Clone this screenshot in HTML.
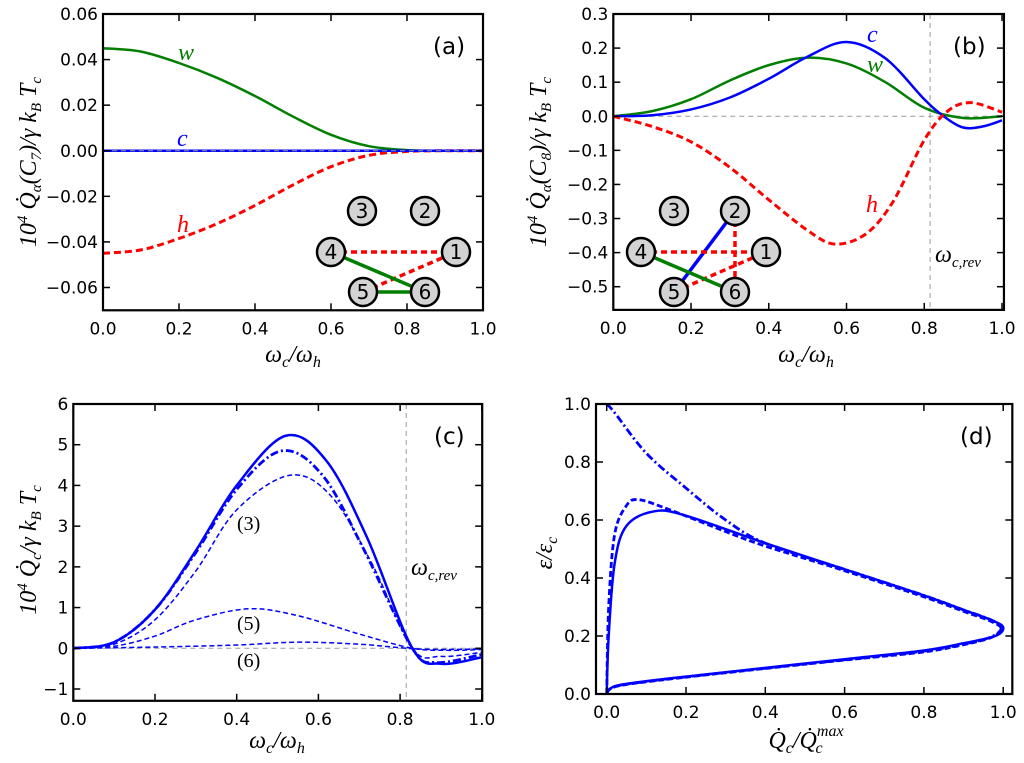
<!DOCTYPE html>
<html><head><meta charset="utf-8"><style>
html,body{margin:0;padding:0;background:#fff;}
svg{display:block;font-family:"DejaVu Sans","Liberation Sans",sans-serif;}
.tk{font-size:17px;fill:#000;}
.lab{font-family:"Liberation Serif","DejaVu Serif",serif;font-style:italic;font-size:24px;}
</style></head><body>
<svg id="fig" width="1024" height="763" viewBox="0 0 1024 763"></svg>
<script>
// ---- data ----
const aX=[0,0.1,0.2,0.3,0.4,0.5,0.6,0.7,0.8,0.9,1.0];
const aW=[0.045,0.0435,0.0385,0.032,0.024,0.015,0.007,0.002,0.0003,0,0];
const aC=[0,0,0,0,0,0,0,0,0,0,0];
const aH=[-0.045,-0.0435,-0.0385,-0.032,-0.024,-0.015,-0.007,-0.002,-0.0003,0,0];
const aYTicks=[0.06,0.04,0.02,0.00,-0.02,-0.04,-0.06];
const aYTickLabels=["0.06","0.04","0.02","0.00","\u22120.02","\u22120.04","\u22120.06"];

const bCX=[0,0.1,0.2,0.3,0.4,0.5,0.6,0.7,0.8,0.85,0.9,0.95,1.0];
const bC=[0,0.003,0.02,0.055,0.11,0.175,0.218,0.17,0.05,0,-0.033,-0.03,-0.012];
const bWX=[0,0.1,0.2,0.3,0.4,0.5,0.6,0.7,0.8,0.9,1.0];
const bW=[0,0.015,0.05,0.105,0.15,0.172,0.155,0.1,0.025,-0.005,0];
const bHX=[0,0.1,0.2,0.3,0.4,0.5,0.57,0.65,0.72,0.8,0.86,0.92,1.0];
const bH=[0,-0.03,-0.075,-0.15,-0.245,-0.335,-0.375,-0.345,-0.25,-0.07,0.015,0.04,0.012];
const bYTicks=[0.3,0.2,0.1,0.0,-0.1,-0.2,-0.3,-0.4,-0.5];
const bYTickLabels=["0.3","0.2","0.1","0.0","\u22120.1","\u22120.2","\u22120.3","\u22120.4","\u22120.5"];
const revX=0.815;

const cX=[0,0.1,0.2,0.3,0.4,0.52,0.62,0.72,0.83,0.9,1.0];
const cTotal=[0,0.15,0.95,2.4,4.0,5.22,4.6,2.7,0,-0.38,-0.22];
const cDDX=[0,0.1,0.2,0.3,0.4,0.51,0.61,0.71,0.83,0.89,1.0];
const cDD=[0,0.15,0.95,2.35,3.9,4.85,4.25,2.45,0,-0.35,-0.15];
const c3X=[0,0.1,0.2,0.3,0.4,0.53,0.63,0.73,0.83,0.9,1.0];
const c3=[0,0.1,0.7,1.9,3.4,4.25,3.75,2.1,0,-0.2,-0.1];
const c5X=[0,0.1,0.2,0.3,0.43,0.55,0.7,0.83,0.92,1.0];
const c5=[0,0.05,0.3,0.7,0.97,0.8,0.35,0,-0.05,-0.03];
const c6X=[0,0.2,0.4,0.55,0.7,0.85,1.0];
const c6=[0,0.03,0.08,0.15,0.1,-0.02,-0.02];
const cYTicks=[6,5,4,3,2,1,0,-1];
const cYTickLabels=["6","5","4","3","2","1","0","\u22121"];

const dSolidX=[0,0.005,0.02,0.05,0.12,0.2,0.4,0.6,0.8,0.9,0.97,1.0,0.98,0.9,0.8,0.6,0.4,0.2,0.05,0.01,0];
const dSolidY=[0,0.2,0.45,0.58,0.63,0.615,0.52,0.43,0.34,0.29,0.255,0.23,0.2,0.175,0.15,0.12,0.09,0.06,0.035,0.02,0];
const dDashX=[0,0.005,0.02,0.05,0.08,0.15,0.3,0.4,0.6,0.8,0.9,0.97,0.995,0.97,0.9,0.8,0.6,0.4,0.2,0.05,0.01,0];
const dDashY=[0,0.3,0.55,0.65,0.67,0.64,0.56,0.51,0.425,0.335,0.285,0.25,0.225,0.195,0.17,0.145,0.117,0.088,0.058,0.033,0.018,0];
const dDDX=[0,0.02,0.1,0.2,0.3,0.4,0.6,0.8,0.9,0.97,0.995,0.97,0.9,0.8,0.6,0.4,0.2,0.05,0.01,0];
const dDDY=[1.0,0.97,0.83,0.71,0.6,0.52,0.43,0.34,0.29,0.255,0.228,0.197,0.172,0.148,0.118,0.089,0.059,0.034,0.019,0];
const xTicks=[0,0.2,0.4,0.6,0.8,1.0];
const xTickLabels=["0.0","0.2","0.4","0.6","0.8","1.0"];
const dYTicks=[0,0.2,0.4,0.6,0.8,1.0];
const dYTickLabels=["0.0","0.2","0.4","0.6","0.8","1.0"];

// ---- helpers ----
const NS="http://www.w3.org/2000/svg";
const svg=document.getElementById('fig');
function mk(tag,attrs,parent){const e=document.createElementNS(NS,tag);for(const k in attrs)e.setAttribute(k,attrs[k]);(parent||svg).appendChild(e);return e;}
function smooth(pts){
  if(pts.length<3)return "M"+pts.map(p=>p.join(",")).join("L");
  let d="M"+pts[0][0].toFixed(2)+","+pts[0][1].toFixed(2);
  for(let i=0;i<pts.length-1;i++){
    const p0=pts[Math.max(0,i-1)],p1=pts[i],p2=pts[i+1],p3=pts[Math.min(pts.length-1,i+2)];
    const c1=[p1[0]+(p2[0]-p0[0])/6,p1[1]+(p2[1]-p0[1])/6];
    const c2=[p2[0]-(p3[0]-p1[0])/6,p2[1]-(p3[1]-p1[1])/6];
    d+="C"+c1[0].toFixed(2)+","+c1[1].toFixed(2)+" "+c2[0].toFixed(2)+","+c2[1].toFixed(2)+" "+p2[0].toFixed(2)+","+p2[1].toFixed(2);
  }
  return d;
}
function panel(cfg){
  const g=mk('g',{});
  
  
  const sx=v=>cfg.px0+(v-cfg.x0)/(cfg.x1-cfg.x0)*(cfg.px1-cfg.px0);
  const sy=v=>cfg.py0+(v-cfg.y0)/(cfg.y1-cfg.y0)*(cfg.py1-cfg.py0);
  cfg.sx=sx;cfg.sy=sy;cfg.g=g;
  const L=sx(cfg.xmin),R=sx(cfg.xmax),T=sy(cfg.ymax),B=sy(cfg.ymin);
  cfg.L=L;cfg.R=R;cfg.T=T;cfg.B=B;
  const clipId='clip-'+cfg.name;
  const cp=mk('clipPath',{id:clipId},g);mk('rect',{x:L,y:T,width:R-L,height:B-T},cp);
  const pg=mk('g',{'clip-path':'url(#'+clipId+')'},g);
  
  
  cfg.pg=pg;
  return cfg;
}
function finish(cfg,xt,xtl,yt,ytl){
  const g=cfg.g,{L,R,T,B}=cfg;
  xt.forEach((v,i)=>{const x=cfg.sx(v);
    const t=mk('line',{x1:x,x2:x,y1:B,y2:B-7,stroke:'#000','stroke-width':1.5},g);
    
    
    mk('line',{x1:x,x2:x,y1:T,y2:T+7,stroke:'#000','stroke-width':1.5},g);
    const tx=mk('text',{x:x,y:B+24,'text-anchor':'middle',class:'tk'},g);tx.textContent=xtl[i];
    
    
  });
  yt.forEach((v,i)=>{const y=cfg.sy(v);
    const t=mk('line',{x1:L,x2:L+7,y1:y,y2:y,stroke:'#000','stroke-width':1.5},g);
    
    
    mk('line',{x1:R,x2:R-7,y1:y,y2:y,stroke:'#000','stroke-width':1.5},g);
    const tx=mk('text',{x:L-5,y:y+6,'text-anchor':'end',class:'tk'},g);tx.textContent=ytl[i];
    
    
  });
  const fr=mk('rect',{x:L,y:T,width:R-L,height:B-T,fill:'none',stroke:'#000','stroke-width':2.2},g);
  
  
}
function series(cfg,xs,ys,name,style){
  const pts=xs.map((x,i)=>[cfg.sx(x),cfg.sy(ys[i])]);
  const p=mk('path',Object.assign({d:smooth(pts),fill:'none','stroke-linejoin':'round'},style),cfg.pg);
  
  
}
function hline(cfg,v,name){const l=mk('line',{x1:cfg.L,x2:cfg.R,y1:cfg.sy(v),y2:cfg.sy(v),stroke:'#999','stroke-width':1,'stroke-dasharray':'5,4'},cfg.pg);
  
  }
function vline(cfg,v,name){const l=mk('line',{x1:cfg.sx(v),x2:cfg.sx(v),y1:cfg.T,y2:cfg.B,stroke:'#999','stroke-width':1,'stroke-dasharray':'5,4'},cfg.pg);
  
  }
function txt(parent,x,y,s,cls,extra,name){const t=mk('text',Object.assign({x:x,y:y,class:cls||''},extra||{}),parent);t.innerHTML=s;
  
  return t;}
function network(parent,nodes,edges,name){
  const g=mk('g',{},parent);
  
  
  edges.forEach(e=>{const a=nodes[e[0]],b=nodes[e[1]];
    const l=mk('line',{x1:a[0],y1:a[1],x2:b[0],y2:b[1],stroke:e[2],'stroke-width':3.5,'stroke-dasharray':e[3]?'6,4':'none'},g);
    
    
  });
  for(const k in nodes){const n=nodes[k];
    const c=mk('circle',{cx:n[0],cy:n[1],r:14,fill:'#d3d3d3',stroke:'#000','stroke-width':2.5},g);
    
    
    const t=mk('text',{x:n[0],y:n[1]+7,'text-anchor':'middle','font-size':'20px'},g);t.textContent=k;
    
    
  }
}
const RED='#ff0000',GRN='#007f00',BLU='#0000ff';
const thickDash={stroke:RED,'stroke-width':3,'stroke-dasharray':'7,4'};

// ---- panel a ----
const A=panel({name:'panel-a',x0:0,x1:1,px0:103,px1:483,y0:0.06,y1:-0.06,py0:14,py1:287.5,xmin:0,xmax:1,ymin:-0.07,ymax:0.06});
series(A,aX,aW,'series-w',{stroke:GRN,'stroke-width':2.5});
series(A,aX,aH,'series-h',thickDash);
series(A,aX,aC,'series-c',{stroke:BLU,'stroke-width':2.5});
hline(A,0,'zero-line');
network(A.g,{"3":[362,211],"2":[425,211],"4":[331,252],"1":[456,252],"5":[363,292],"6":[425,292]},
  [["4","1",RED,1],["5","1",RED,1],["4","6",GRN,0],["5","6",GRN,0]],'network-inset-a');
finish(A,xTicks,xTickLabels,aYTicks,aYTickLabels);
txt(A.g,178,60,'w','lab',{fill:GRN},'label-w');
txt(A.g,177,146,'c','lab',{fill:BLU},'label-c');
txt(A.g,177,232,'h','lab',{fill:RED},'label-h');
txt(A.g,433,54,'(a)','',{'font-size':'23px'},'panel-label-a');

// ---- panel b ----
const Bp=panel({name:'panel-b',x0:0,x1:1,px0:613.3,px1:1002,y0:0.3,y1:-0.5,py0:14,py1:286.7,xmin:0,xmax:1.005,ymin:-0.568,ymax:0.3});
hline(Bp,0,'zero-line');
vline(Bp,revX,'reversal-line');
series(Bp,bWX,bW,'series-w',{stroke:GRN,'stroke-width':2.5});
series(Bp,bCX,bC,'series-c',{stroke:BLU,'stroke-width':2.5});
series(Bp,bHX,bH,'series-h',thickDash);
network(Bp.g,{"3":[674,211],"2":[735,211],"4":[641,252],"1":[766,252],"5":[674,292],"6":[735,292]},
  [["2","5",BLU,0],["2","6",RED,1],["4","1",RED,1],["5","1",RED,1],["4","6",GRN,0]],'network-inset-b');
finish(Bp,xTicks,xTickLabels,bYTicks,bYTickLabels);
txt(Bp.g,867,42,'c','lab',{fill:BLU},'label-c');
txt(Bp.g,867,72,'w','lab',{fill:GRN},'label-w');
txt(Bp.g,866,212,'h','lab',{fill:RED},'label-h');
txt(Bp.g,935,262,'ω<tspan font-size="15" dy="5">c,rev</tspan>','lab',{fill:'#000'},'label-omega-rev');
txt(Bp.g,953,54,'(b)','',{'font-size':'23px'},'panel-label-b');

// ---- panel c ----
const Cp=panel({name:'panel-c',x0:0,x1:1,px0:73.3,px1:481.8,y0:6,y1:-1,py0:404,py1:689,xmin:0,xmax:1.001,ymin:-1.29,ymax:6});
hline(Cp,0,'zero-line');
vline(Cp,revX,'reversal-line');
series(Cp,c6X,c6,'series-c6',{stroke:BLU,'stroke-width':1.5,'stroke-dasharray':'5,3'});
series(Cp,c5X,c5,'series-c5',{stroke:BLU,'stroke-width':1.5,'stroke-dasharray':'5,3'});
series(Cp,c3X,c3,'series-c3',{stroke:BLU,'stroke-width':1.5,'stroke-dasharray':'5,3'});
series(Cp,cDDX,cDD,'series-dashdot',{stroke:BLU,'stroke-width':2.8,'stroke-dasharray':'8,3,2,3'});
series(Cp,cX,cTotal,'series-total',{stroke:BLU,'stroke-width':2.5});
finish(Cp,xTicks,xTickLabels,cYTicks,cYTickLabels);
txt(Cp.g,237,530,'(3)','',{'font-family':'Liberation Serif,serif','font-size':'20px'},'label-3');
txt(Cp.g,237,630,'(5)','',{'font-family':'Liberation Serif,serif','font-size':'20px'},'label-5');
txt(Cp.g,237,667,'(6)','',{'font-family':'Liberation Serif,serif','font-size':'20px'},'label-6');
txt(Cp.g,411,575,'ω<tspan font-size="15" dy="5">c,rev</tspan>','lab',{fill:'#000'},'label-omega-rev');
txt(Cp.g,434,444,'(c)','',{'font-size':'23px'},'panel-label-c');

// ---- panel d ----
const Dp=panel({name:'panel-d',x0:0,x1:1,px0:606.7,px1:1003.2,y0:1,y1:0,py0:404,py1:694,xmin:-0.027,xmax:1.023,ymin:0,ymax:1});
series(Dp,dDDX,dDDY,'series-dashdot',{stroke:BLU,'stroke-width':2.8,'stroke-dasharray':'8,3,2,3'});
series(Dp,dDashX,dDashY,'series-dashed',{stroke:BLU,'stroke-width':2.8,'stroke-dasharray':'6,3'});
series(Dp,dSolidX,dSolidY,'series-solid',{stroke:BLU,'stroke-width':2.5});
finish(Dp,xTicks,xTickLabels,dYTicks,dYTickLabels);
txt(Dp.g,960,444,'(d)','',{'font-size':'23px'},'panel-label-d');

// ---- axis titles ----
const xl=[[293,362],[806,362],[277,748]];
xl.forEach((p,i)=>{
  txt(svg,p[0],p[1],'ω<tspan font-size="16" dy="5">c</tspan><tspan dy="-5">/ω</tspan><tspan font-size="16" dy="5">h</tspan>','lab',{'text-anchor':'middle'},'x-axis-title');
});
txt(svg,806,748,'Q̇<tspan font-size="16" dy="5">c</tspan><tspan dy="-5">/Q̇</tspan><tspan font-size="16" dy="-12">max</tspan><tspan font-size="16" dx="-28" dy="17">c</tspan>','lab',{'text-anchor':'middle'},'x-axis-title');
txt(svg,0,0,'10<tspan font-size="15" dy="-9">4</tspan><tspan dy="9"> Q̇</tspan><tspan font-size="15" dy="5">α</tspan><tspan dy="-5">(C</tspan><tspan font-size="15" dy="5">7</tspan><tspan dy="-5">)/γ k</tspan><tspan font-size="15" dy="5">B</tspan><tspan dy="-5"> T</tspan><tspan font-size="15" dy="5">c</tspan>','lab',{'text-anchor':'middle',transform:'translate(36,162) rotate(-90)'},'y-axis-title-a');
txt(svg,0,0,'10<tspan font-size="15" dy="-9">4</tspan><tspan dy="9"> Q̇</tspan><tspan font-size="15" dy="5">α</tspan><tspan dy="-5">(C</tspan><tspan font-size="15" dy="5">8</tspan><tspan dy="-5">)/γ k</tspan><tspan font-size="15" dy="5">B</tspan><tspan dy="-5"> T</tspan><tspan font-size="15" dy="5">c</tspan>','lab',{'text-anchor':'middle',transform:'translate(546,162) rotate(-90)'},'y-axis-title-b');
txt(svg,0,0,'10<tspan font-size="15" dy="-9">4</tspan><tspan dy="9"> Q̇</tspan><tspan font-size="15" dy="5">c</tspan><tspan dy="-5">/γ k</tspan><tspan font-size="15" dy="5">B</tspan><tspan dy="-5"> T</tspan><tspan font-size="15" dy="5">c</tspan>','lab',{'text-anchor':'middle',transform:'translate(36,550) rotate(-90)'},'y-axis-title-c');
txt(svg,0,0,'ε/ε<tspan font-size="16" dy="5">c</tspan>','lab',{'text-anchor':'middle',transform:'translate(552,553) rotate(-90)'},'y-axis-title-d');
</script>
</body></html>
